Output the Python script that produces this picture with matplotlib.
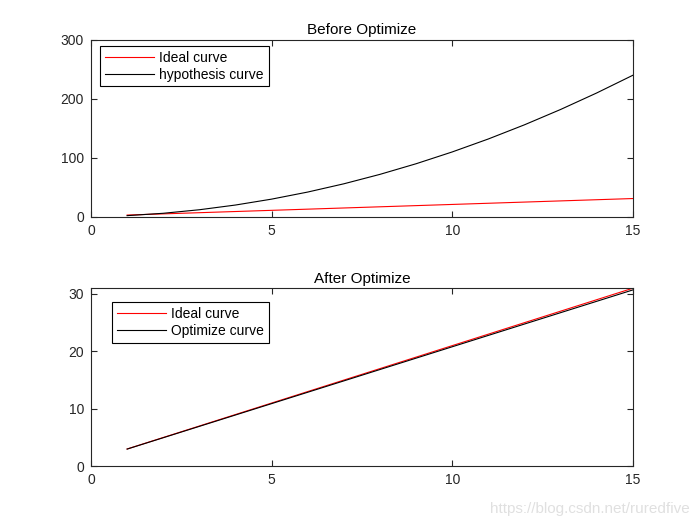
import matplotlib
matplotlib.use("Agg")
import matplotlib.pyplot as plt

x = [1, 2, 3, 4, 5, 6, 7, 8, 9, 10, 11, 12, 13, 14, 15]
ideal = [3, 5, 7, 9, 11, 13, 15, 17, 19, 21, 23, 25, 27, 29, 31]
hypothesis = [2, 6, 12, 20, 30, 42, 56, 72, 90, 110, 132, 156, 182, 210, 240]
optimize = [2.98, 4.96, 6.94, 8.92, 10.9, 12.88, 14.86, 16.84, 18.82, 20.8,
            22.78, 24.76, 26.74, 28.72, 30.7]

plt.rcParams['font.family'] = ['Liberation Sans', 'DejaVu Sans']
fig = plt.figure(figsize=(7, 5.25), dpi=100)
edge = '#262626'

def style(ax):
    for s in ax.spines.values():
        s.set_color(edge)
        s.set_linewidth(0.8)
    ax.tick_params(direction='in', top=True, right=True, length=4,
                   color=edge, labelsize=10, labelcolor=edge, width=0.8, pad=5)

ax1 = fig.add_axes([0.13, 0.587, 0.774, 0.337])
ax1.plot(x, ideal, color='red', lw=0.8, label='Ideal curve')
ax1.plot(x, hypothesis, color='black', lw=0.8, label='hypothesis curve')
ax1.set_xlim(0, 15)
ax1.set_ylim(0, 300)
ax1.set_xticks([0, 5, 10, 15])
ax1.set_yticks([0, 100, 200, 300])
ax1.set_title('Before Optimize', fontsize=11, pad=4)
style(ax1)
leg1 = ax1.legend(loc='upper left', bbox_to_anchor=(0.017, 0.966), borderaxespad=0,
                  fancybox=False, edgecolor='black', fontsize=10, handlelength=3.5,
                  framealpha=1, handletextpad=0.4, borderpad=0.35, labelspacing=0.2)
leg1.get_frame().set_linewidth(0.8)

ax2 = fig.add_axes([0.13, 0.112, 0.774, 0.339])
ax2.plot(x, ideal, color='red', lw=0.8, label='Ideal curve')
ax2.plot(x, optimize, color='black', lw=0.8, label='Optimize curve')
ax2.set_xlim(0, 15)
ax2.set_ylim(0, 31)
ax2.set_xticks([0, 5, 10, 15])
ax2.set_yticks([0, 10, 20, 30])
ax2.set_title('After Optimize', fontsize=11, pad=4)
style(ax2)
leg2 = ax2.legend(loc='upper left', bbox_to_anchor=(0.039, 0.921), borderaxespad=0,
                  fancybox=False, edgecolor='black', fontsize=10, handlelength=3.5,
                  framealpha=1, handletextpad=0.4, borderpad=0.35, labelspacing=0.2)
leg2.get_frame().set_linewidth(0.8)

fig.text(0.985, 0.018, 'https://blog.csdn.net/ruredfive', ha='right', va='bottom',
         fontsize=11, color='#e0e0e0')

fig.savefig('out.png', dpi=100)
